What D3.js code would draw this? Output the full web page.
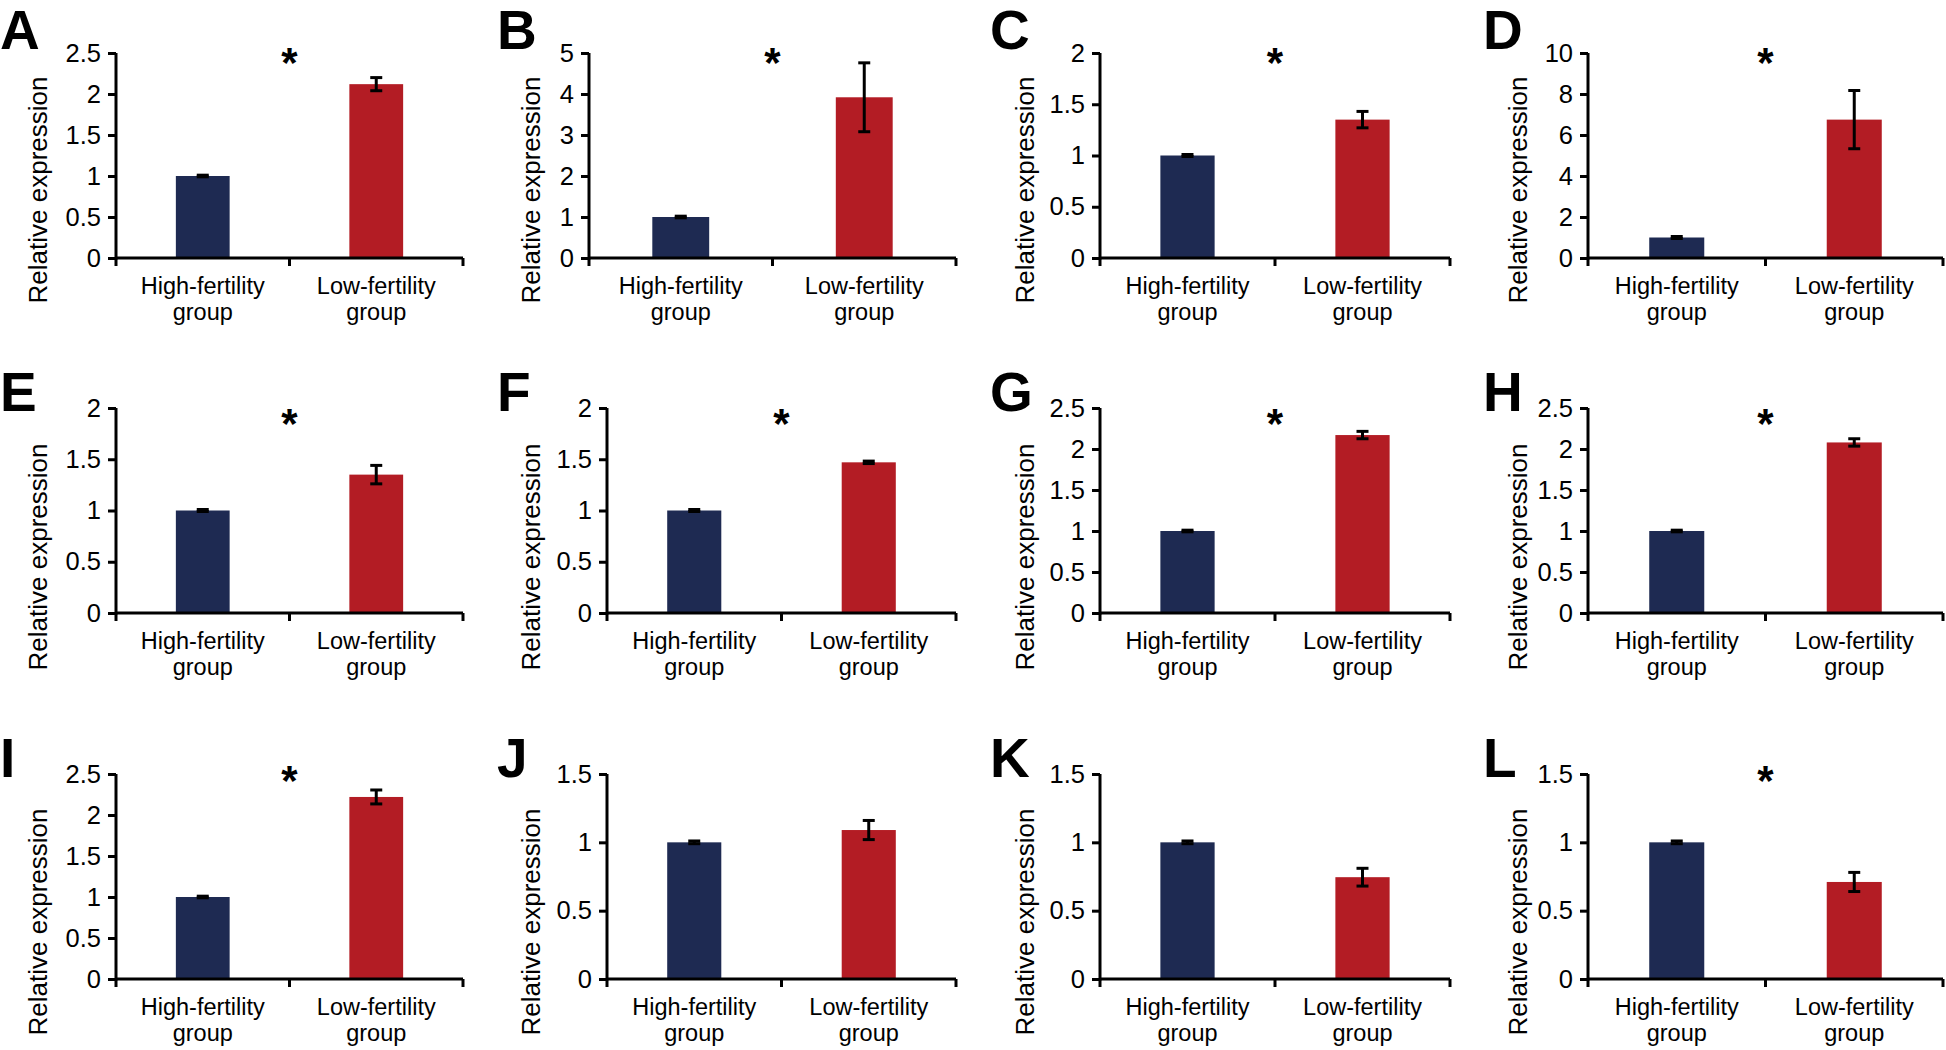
<!DOCTYPE html>
<html>
<head>
<meta charset="utf-8">
<script src="https://cdn.jsdelivr.net/npm/d3@7"></script>
<style>
  html, body { margin: 0; padding: 0; background: #fff; }
  svg { display: block; }
  text { font-family: "Liberation Sans", Arial, Helvetica, sans-serif; fill: #000; }
</style>
</head>
<body>
<svg id="chart" width="1946" height="1050"></svg>
<script>
// ---------- data ----------
const panelLetters = ["A","B","C","D","E","F","G","H","I","J","K","L"];
const categories = ["High-fertility group", "Low-fertility group"];
const highMeans = [1, 1, 1, 1, 1, 1, 1, 1, 1, 1, 1, 1];
const highErrs  = [0.01, 0.02, 0.01, 0.05, 0.01, 0.01, 0.01, 0.01, 0.01, 0.01, 0.01, 0.01];
const lowMeans  = [2.12, 3.92, 1.35, 6.75, 1.35, 1.47, 2.17, 2.08, 2.22, 1.09, 0.745, 0.71];
const lowErrs   = [0.08, 0.84, 0.08, 1.42, 0.09, 0.012, 0.045, 0.045, 0.085, 0.07, 0.065, 0.07];
const yMaxes    = [2.5, 5, 2, 10, 2, 2, 2.5, 2.5, 2.5, 1.5, 1.5, 1.5];
const yTickSteps = [0.5, 1, 0.5, 2, 0.5, 0.5, 0.5, 0.5, 0.5, 0.5, 0.5, 0.5];
const significant = [true, true, true, true, true, true, true, true, true, false, false, true];
const yTitle = "Relative expression";

// ---------- layout ----------
const colOffset = [0, 493, 987, 1480];
const axisLeftX = [116, 589, 1100, 1588, 116, 607, 1100, 1588, 116, 607, 1100, 1588];
const axisRightRel = 463;
const rowTop = [53, 408, 774];
const rowZero = [258, 613, 979];
const rowLetterBase = [49, 411, 777];
const rowStarCenter = [53, 414, 771];
const rowTitleCenter = [190, 557, 922];
const colTitleBase = [47, 540, 1034, 1527];
const colLetterX = [0, 497, 990, 1483];
const colors = ["#1e2a52", "#b31c24"];

const svg = d3.select("#chart");

panelLetters.forEach((letter, i) => {
  const row = Math.floor(i / 4), col = i % 4;
  const g = svg.append("g");
  const left = axisLeftX[i], right = colOffset[col] + axisRightRel;
  const top = rowTop[row], zero = rowZero[row];

  const x = d3.scaleBand().domain(categories).range([left, right])
    .paddingInner(0.69).paddingOuter(0.345);
  const y = d3.scaleLinear().domain([0, yMaxes[i]]).range([zero, top]);
  const ticks = d3.range(0, yMaxes[i] + yTickSteps[i] / 2, yTickSteps[i]);

  // bars
  const means = [highMeans[i], lowMeans[i]];
  const errs = [highErrs[i], lowErrs[i]];
  g.selectAll("rect.bar").data(categories).join("rect")
    .attr("x", d => x(d))
    .attr("width", x.bandwidth())
    .attr("y", (d, k) => y(means[k]))
    .attr("height", (d, k) => zero - y(means[k]))
    .attr("fill", (d, k) => colors[k]);

  // error bars
  categories.forEach((c, k) => {
    const cx = x(c) + x.bandwidth() / 2;
    const yT = y(means[k] + errs[k]), yB = y(means[k] - errs[k]);
    g.append("line").attr("x1", cx).attr("x2", cx).attr("y1", yT).attr("y2", yB)
      .attr("stroke", "#000").attr("stroke-width", 3);
    [yT, yB].forEach(yy => g.append("line")
      .attr("x1", cx - 6).attr("x2", cx + 6).attr("y1", yy).attr("y2", yy)
      .attr("stroke", "#000").attr("stroke-width", 3));
  });

  // y axis
  const yAxis = d3.axisLeft(y).tickValues(ticks).tickSize(8).tickSizeOuter(0)
    .tickPadding(7).tickFormat(d3.format(""));
  const ya = g.append("g").attr("transform", `translate(${left},0)`).call(yAxis);
  ya.select(".domain").attr("stroke", "#000").attr("stroke-width", 3)
    .attr("d", `M0,${top}V${zero + 1.5}`);
  ya.selectAll(".tick line").attr("stroke", "#000").attr("stroke-width", 3);
  ya.selectAll(".tick text").attr("font-size", 25.5)
    .attr("font-family", '"Liberation Sans", Arial, sans-serif').attr("fill", "#000");

  // x axis
  const [r0, r1] = x.range();
  g.append("line").attr("x1", r0).attr("x2", r1).attr("y1", zero).attr("y2", zero)
    .attr("stroke", "#000").attr("stroke-width", 3);
  [r0, (r0 + r1) / 2, r1].forEach(tx => g.append("line")
    .attr("x1", tx).attr("x2", tx).attr("y1", zero).attr("y2", zero + 8)
    .attr("stroke", "#000").attr("stroke-width", 3));

  // category labels
  categories.forEach(c => {
    const parts = c.split(" ");
    const cx = x(c) + x.bandwidth() / 2;
    const t = g.append("text").attr("text-anchor", "middle").attr("font-size", 23.5)
      .attr("x", cx).attr("y", zero + 36);
    t.append("tspan").attr("x", cx).text(parts[0]);
    t.append("tspan").attr("x", cx).attr("dy", 26).text(parts[1]);
  });

  // y title
  g.append("text").attr("text-anchor", "middle").attr("font-size", 26)
    .attr("transform", `translate(${colTitleBase[col]},${rowTitleCenter[row]}) rotate(-90)`)
    .text(yTitle);

  // panel letter
  g.append("text").attr("font-size", 55).attr("font-weight", "bold")
    .attr("x", colLetterX[col]).attr("y", rowLetterBase[row]).text(letter);

  // significance
  if (significant[i]) {
    g.append("text").attr("text-anchor", "middle").attr("font-size", 42).attr("font-weight", "bold")
      .attr("x", (r0 + r1) / 2).attr("y", rowStarCenter[row] + 24).text("*");
  }
});
</script>
</body>
</html>
